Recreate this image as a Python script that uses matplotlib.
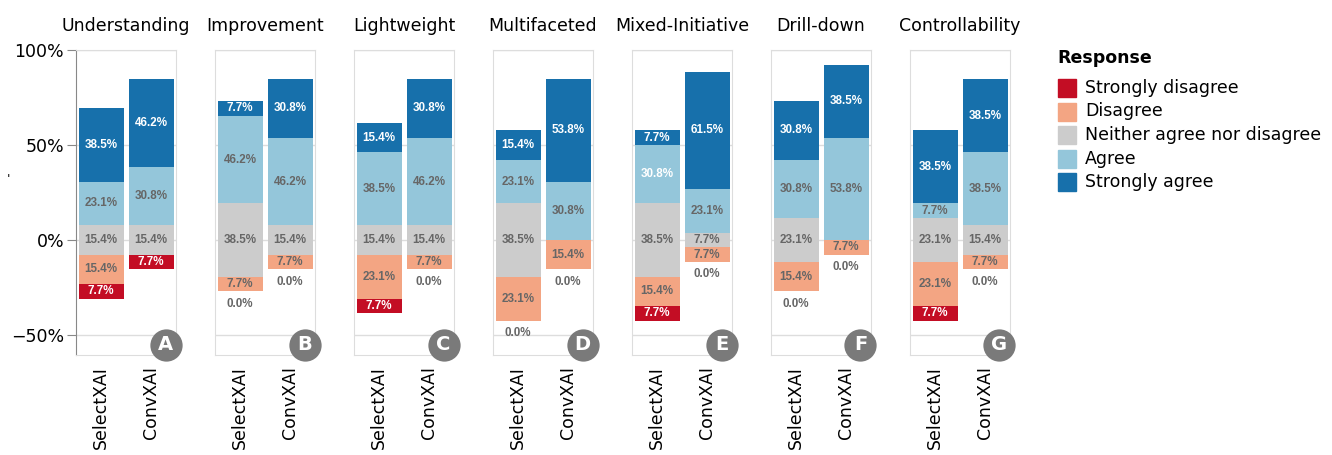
import matplotlib.pyplot as plt
from matplotlib.patches import Rectangle

W, H = 1332, 455

questions = ["Understanding", "Improvement", "Lightweight", "Multifaceted",
             "Mixed-Initiative", "Drill-down", "Controllability"]
badges = ["A", "B", "C", "D", "E", "F", "G"]
systems = ["SelectXAI", "ConvXAI"]
responses = ["Strongly disagree", "Disagree", "Neither agree nor disagree",
             "Agree", "Strongly agree"]
colors = ["#c30d24", "#f3a583", "#cccccc", "#94c6da", "#1770ab"]

# percent of answers, order: SD, D, N, A, SA
select_xai = [
    [7.7, 15.4, 15.4, 23.1, 38.5],
    [0.0, 7.7, 38.5, 46.2, 7.7],
    [7.7, 23.1, 15.4, 38.5, 15.4],
    [0.0, 23.1, 38.5, 23.1, 15.4],
    [7.7, 15.4, 38.5, 30.8, 7.7],
    [0.0, 15.4, 23.1, 30.8, 30.8],
    [7.7, 23.1, 23.1, 7.7, 38.5],
]
conv_xai = [
    [7.7, 0.0, 15.4, 30.8, 46.2],
    [0.0, 7.7, 15.4, 46.2, 30.8],
    [0.0, 7.7, 15.4, 46.2, 30.8],
    [0.0, 15.4, 0.0, 30.8, 53.8],
    [0.0, 7.7, 7.7, 23.1, 61.5],
    [0.0, 7.7, 0.0, 53.8, 38.5],
    [0.0, 7.7, 15.4, 38.5, 38.5],
]
# (question, system, response) whose label is drawn in white anyway
white_extra = [(4, 0, 3)]

plt.rcParams['font.family'] = 'DejaVu Sans'
plt.rcParams['font.size'] = 12.5

fig = plt.figure(figsize=(W / 100, H / 100), dpi=100)

for i, q in enumerate(questions):
    ax = fig.add_axes([(76 + i * 139) / W, 100 / H, 100 / W, 305 / H])
    for j, vals in enumerate([select_xai[i], conv_xai[i]]):
        sd, d, n, a, sa = vals
        bottoms = [-n / 2 - d - sd, -n / 2 - d, -n / 2, n / 2, n / 2 + a]
        for k in range(5):
            if vals[k] <= 0:
                continue
            ax.bar(j, vals[k], bottom=bottoms[k], width=0.9,
                   color=colors[k], zorder=2)
            white = k in (0, 4) or (i, j, k) in white_extra
            ax.text(j, bottoms[k] + vals[k] / 2, f"{vals[k]:.1f}%",
                    ha='center', va='center', fontsize=8.4,
                    family='Liberation Sans', weight='bold',
                    color='white' if white else '#666666', zorder=3)
        if sd == 0:
            ax.text(j, bottoms[0] - 6.5, "0.0%", ha='center', va='center',
                    fontsize=8.4, family='Liberation Sans', weight='bold',
                    color='#666666', zorder=3)

    ax.set_xlim(-0.5, 1.5)
    ax.set_ylim(-60.5, 100)
    ax.set_yticks([-50, 0, 50, 100])
    ax.grid(axis='y', color='#dddddd', lw=1, zorder=0)
    ax.set_axisbelow(True)
    ax.set_xticks([0, 1])
    ax.set_xticklabels(systems, rotation=90, va='top', ha='center')
    ax.tick_params(axis='x', length=0, pad=8)
    for s in ax.spines.values():
        s.set_color('#dddddd')
    if i == 0:
        ax.set_yticklabels(["\u221250%", "0%", "50%", "100%"])
        ax.tick_params(axis='y', length=6.5, color='#888888', pad=2)
        ax.spines['left'].set_color('#888888')
    else:
        ax.tick_params(axis='y', length=0, labelleft=False)
    ax.set_title(q, fontsize=12.5, pad=14)

    ax.scatter([0.895], [0.033], s=540, color='#7a7a7a', transform=ax.transAxes,
               clip_on=False, zorder=5, linewidths=0)
    ax.text(0.895, 0.033, badges[i], transform=ax.transAxes, ha='center',
            va='center', color='white', fontsize=14, weight='bold', zorder=6)

fig.text(8 / W, 1 - 180 / H, "'", fontsize=9, ha='center', va='center')

# legend
fig.text(1057 / W, 1 - 58 / H, "Response", weight='bold', fontsize=12.5,
         ha='left', va='center')
for k, r in enumerate(responses):
    yc = 88 + k * 23.5
    fig.add_artist(Rectangle((1058 / W, 1 - (yc + 9) / H), 18 / W, 18 / H,
                             transform=fig.transFigure, color=colors[k]))
    fig.text(1085 / W, 1 - yc / H, r, fontsize=12.5, ha='left', va='center')

fig.savefig("out.png", dpi=100)
